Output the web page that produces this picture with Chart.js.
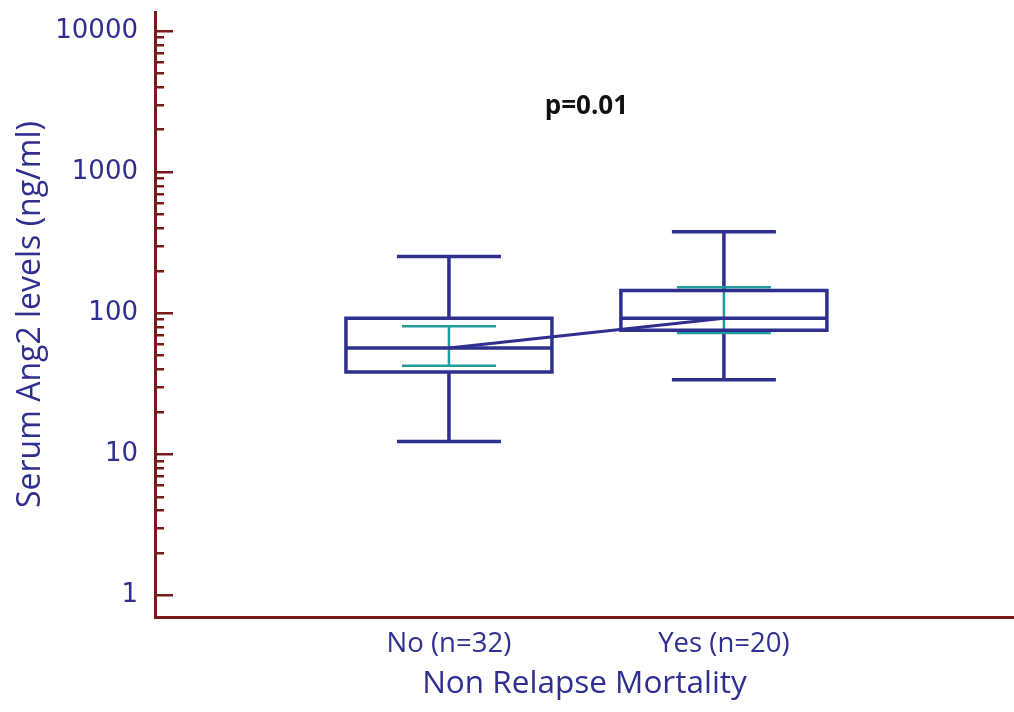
<!DOCTYPE html>
<html><head><meta charset="utf-8">
<script src="https://cdn.jsdelivr.net/npm/chart.js@4"></script>
<style>html,body{margin:0;padding:0;background:#fff}#wrap{width:1014px;height:712px}</style>
</head><body><div id="wrap"><canvas id="c" width="1014" height="712"></canvas></div>
<script>
// ---- data ----
const categories = ['No (n=32)', 'Yes (n=20)'];
const whiskerLow  = [12.3, 33.6];
const q1          = [38.2, 75.5];
const median      = [56.4, 91.8];
const q3          = [91.8, 144.5];
const whiskerHigh = [251, 376];
const ciLow       = [42.2, 72.0];
const ciHigh      = [80.6, 152];
const yTicks      = [1, 10, 100, 1000, 10000];
const pText       = 'p=0.01';
const pValuePos   = {x: 1.5, y: 2900};

const NAVY = '#2e2f8f';
const RED  = '#7a1a1a';
const TEAL = '#1f9c9c';

const boxPlugin = {
  id: 'boxes',
  afterDatasetsDraw(chart) {
    const {ctx, scales: {x, y}} = chart;
    ctx.save();
    ctx.lineCap = 'butt';
    categories.forEach((c, i) => {
      const cx = x.getPixelForValue(i + 1);
      const boxHalf = 103, capHalf = 52, ciHalf = 47;
      const yq1 = y.getPixelForValue(q1[i]), yq3 = y.getPixelForValue(q3[i]);
      const ymed = y.getPixelForValue(median[i]);
      const ylo = y.getPixelForValue(whiskerLow[i]), yhi = y.getPixelForValue(whiskerHigh[i]);
      const ycl = y.getPixelForValue(ciLow[i]), ych = y.getPixelForValue(ciHigh[i]);
      ctx.strokeStyle = NAVY;
      ctx.lineWidth = 3.5;
      ctx.beginPath();
      ctx.moveTo(cx, yhi); ctx.lineTo(cx, yq3);
      ctx.moveTo(cx, yq1); ctx.lineTo(cx, ylo);
      ctx.moveTo(cx - capHalf, yhi); ctx.lineTo(cx + capHalf, yhi);
      ctx.moveTo(cx - capHalf, ylo); ctx.lineTo(cx + capHalf, ylo);
      ctx.stroke();
      ctx.strokeStyle = TEAL;
      ctx.lineWidth = 2.5;
      ctx.beginPath();
      ctx.moveTo(cx - ciHalf, ych); ctx.lineTo(cx + ciHalf, ych);
      ctx.moveTo(cx - ciHalf, ycl); ctx.lineTo(cx + ciHalf, ycl);
      ctx.moveTo(cx, ych); ctx.lineTo(cx, ycl);
      ctx.stroke();
      ctx.strokeStyle = NAVY;
      ctx.lineWidth = 3.5;
      ctx.beginPath();
      ctx.rect(cx - boxHalf, yq3, boxHalf * 2, yq1 - yq3);
      ctx.moveTo(cx - boxHalf, ymed); ctx.lineTo(cx + boxHalf, ymed);
      ctx.stroke();
    });
    ctx.restore();
  },
  afterDraw(chart) {
    const {ctx, scales: {x, y}} = chart;
    ctx.save();
    ctx.strokeStyle = RED;
    ctx.lineWidth = 2.5;
    const left = chart.chartArea.left;
    ctx.beginPath();
    yTicks.forEach(t => {
      for (let m = 1; m <= 9; m++) {
        const v = t * m;
        if (v < y.min || v > y.max) continue;
        const py = Math.round(y.getPixelForValue(v)) + 0.25;
        ctx.moveTo(left, py);
        ctx.lineTo(left + (m === 1 ? 18 : 9), py);
      }
    });
    ctx.stroke();
    ctx.fillStyle = '#111';
    ctx.font = 'bold 26px "Open Sans"';
    ctx.textAlign = 'center';
    ctx.textBaseline = 'middle';
    ctx.fillText(pText, x.getPixelForValue(pValuePos.x), y.getPixelForValue(pValuePos.y));
    ctx.restore();
  }
};

new Chart(document.getElementById('c'), {
  type: 'line',
  data: {
    datasets: [{
      data: median.map((m, i) => ({x: i + 1, y: m})),
      borderColor: NAVY,
      borderWidth: 3,
      pointRadius: 0,
      fill: false
    }]
  },
  options: {
    responsive: false,
    animation: false,
    devicePixelRatio: 1,
    layout: {padding: {top: 12, right: 0, left: 0, bottom: 0}},
    plugins: {legend: {display: false}, tooltip: {enabled: false}},
    scales: {
      x: {
        type: 'linear',
        min: -0.069,
        max: 3.055,
        afterFit(s) { s.height = 95; },
        afterBuildTicks(s) { s.ticks = categories.map((c, i) => ({value: i + 1})); },
        ticks: {
          callback: (v) => categories[v - 1] || '',
          color: NAVY,
          font: {family: '"Open Sans"', size: 27.5},
          padding: 11,
          autoSkip: false,
          maxRotation: 0
        },
        grid: {display: true, drawOnChartArea: false, drawTicks: false},
        border: {color: RED, width: 3},
        title: {
          display: true,
          text: 'Non Relapse Mortality',
          color: NAVY,
          font: {family: '"Open Sans"', size: 31.5},
          padding: {top: 0, bottom: 9}
        }
      },
      y: {
        type: 'logarithmic',
        min: 0.743,
        max: 13600,
        afterFit(s) { s.width = 155; },
        afterBuildTicks(s) { s.ticks = yTicks.map(v => ({value: v})); },
        ticks: {
          callback: (v) => String(v),
          color: NAVY,
          font: {family: '"DejaVu Sans"', size: 26, lineHeight: 0.05},
          padding: 0,
          autoSkip: false
        },
        grid: {display: true, drawOnChartArea: false, drawTicks: true, tickLength: 17, tickColor: 'rgba(0,0,0,0)'},
        border: {color: RED, width: 3},
        title: {
          display: true,
          text: 'Serum Ang2 levels (ng/ml)',
          color: NAVY,
          font: {family: '"Open Sans"', size: 32},
          padding: {top: 12, bottom: 0}
        }
      }
    }
  },
  plugins: [boxPlugin]
});
</script>
</body></html>
